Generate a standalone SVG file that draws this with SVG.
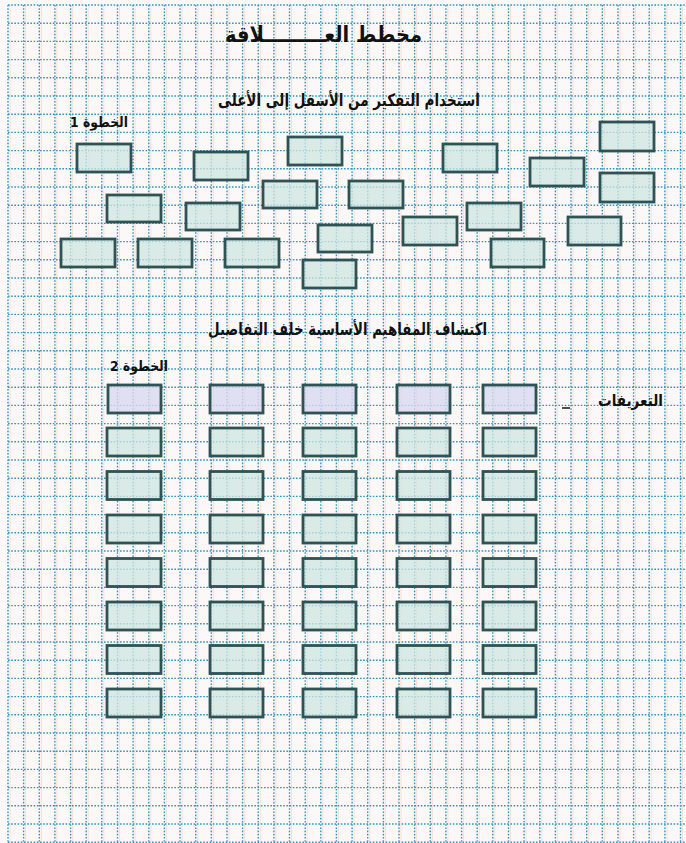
<svg xmlns="http://www.w3.org/2000/svg" width="686" height="843" viewBox="0 0 686 843">
<defs>
<style>
.bg{fill:#fcf8f7}
.grid{fill:none;stroke:#3596c0;stroke-width:1.4;stroke-dasharray:1.6 1.6}
.ghost{fill:none;stroke:#f2c4b4;stroke-width:1;opacity:0.45}
.box{fill:#cfe7e1;fill-opacity:0.75;stroke:#2f5254;stroke-width:2.8}
.def{fill:#d9d9f0;fill-opacity:0.8;stroke:#2f5254;stroke-width:2.8}
.t{font-family:"DejaVu Sans",sans-serif;font-weight:bold;fill:#111;text-anchor:middle}
.conn{stroke:#222;stroke-width:1.6;fill:none}
</style>
</defs>
<rect class="bg" x="0" y="0" width="686" height="843"/>
<g id="grid">
<path class="ghost" d="M10 5V843M25.6 5V843M41.3 5V843M56.9 5V843M72.6 5V843M88.2 5V843M103.8 5V843M119.5 5V843M135.1 5V843M150.8 5V843M166.4 5V843M182 5V843M197.7 5V843M213.3 5V843M229 5V843M244.6 5V843M260.2 5V843M275.9 5V843M291.5 5V843M307.2 5V843M322.8 5V843M338.4 5V843M354.1 5V843M369.7 5V843M385.4 5V843M401 5V843M416.6 5V843M432.3 5V843M447.9 5V843M463.6 5V843M479.2 5V843M494.8 5V843M510.5 5V843M526.1 5V843M541.8 5V843M557.4 5V843M573 5V843M588.7 5V843M604.3 5V843M620 5V843M635.6 5V843M651.2 5V843M666.9 5V843M682.5 5V843"/>
<path class="grid" d="M8 5V843M23.6 5V843M39.3 5V843M54.9 5V843M70.6 5V843M86.2 5V843M101.8 5V843M117.5 5V843M133.1 5V843M148.8 5V843M164.4 5V843M180 5V843M195.7 5V843M211.3 5V843M227 5V843M242.6 5V843M258.2 5V843M273.9 5V843M289.5 5V843M305.2 5V843M320.8 5V843M336.4 5V843M352.1 5V843M367.7 5V843M383.4 5V843M399 5V843M414.6 5V843M430.3 5V843M445.9 5V843M461.6 5V843M477.2 5V843M492.8 5V843M508.5 5V843M524.1 5V843M539.8 5V843M555.4 5V843M571 5V843M586.7 5V843M602.3 5V843M618 5V843M633.6 5V843M649.2 5V843M664.9 5V843M680.5 5V843"/>
<path class="grid" d="M8 5H686M8 23.2H686M8 41.4H686M8 59.6H686M8 77.8H686M8 96H686M8 114.2H686M8 132.4H686M8 150.6H686M8 168.8H686M8 187H686M8 205.2H686M8 223.4H686M8 241.6H686M8 259.8H686M8 278H686M8 296.2H686M8 314.4H686M8 332.6H686M8 350.8H686M8 369H686M8 387.2H686M8 405.4H686M8 423.6H686M8 441.8H686M8 460H686M8 478.2H686M8 496.4H686M8 514.6H686M8 532.8H686M8 551H686M8 569.2H686M8 587.4H686M8 605.6H686M8 623.8H686M8 642H686M8 660.2H686M8 678.4H686M8 696.6H686M8 714.8H686M8 733H686M8 751.2H686M8 769.4H686M8 787.6H686M8 805.8H686M8 824H686M8 842.2H686"/>
</g>
<g id="labels">
<g id="title"><text class="t" x="323.5" y="42" font-size="22" textLength="197" lengthAdjust="spacingAndGlyphs">مخطط العـــــــــلاقة</text></g>
<g id="subtitle1"><text class="t" x="349" y="106" font-size="17" textLength="262" lengthAdjust="spacingAndGlyphs">استخدام التفكير من الأسفل إلى الأعلى</text></g>
<g id="step1"><text class="t" x="99" y="127" font-size="14" direction="rtl" textLength="58" lengthAdjust="spacingAndGlyphs">الخطوة 1</text></g>
<g id="subtitle2"><text class="t" x="347.5" y="335" font-size="17" textLength="279" lengthAdjust="spacingAndGlyphs">اكتشاف المفاهيم الأساسية خلف التفاصيل</text></g>
<g id="step2"><text class="t" x="139" y="371" font-size="14" direction="rtl" textLength="58" lengthAdjust="spacingAndGlyphs">الخطوة 2</text></g>
<g id="definitions"><text class="t" x="630.5" y="406" font-size="16" textLength="65" lengthAdjust="spacingAndGlyphs">التعريفات</text></g>
</g>
<g id="connectors">
<path class="conn" d="M562 408H570"/>
</g>
<g id="step1-boxes">
<g id="s1-1"><rect class="box" x="77" y="144" width="54" height="28"/></g>
<g id="s1-2"><rect class="box" x="194" y="152" width="54" height="28"/></g>
<g id="s1-3"><rect class="box" x="288" y="137" width="54" height="28"/></g>
<g id="s1-4"><rect class="box" x="443" y="144" width="54" height="28"/></g>
<g id="s1-5"><rect class="box" x="530" y="158" width="54" height="28"/></g>
<g id="s1-6"><rect class="box" x="600" y="122" width="54" height="29"/></g>
<g id="s1-7"><rect class="box" x="600" y="173" width="54" height="29"/></g>
<g id="s1-8"><rect class="box" x="107" y="195" width="54" height="27"/></g>
<g id="s1-9"><rect class="box" x="186" y="203" width="54" height="27"/></g>
<g id="s1-10"><rect class="box" x="263" y="181" width="54" height="27"/></g>
<g id="s1-11"><rect class="box" x="349" y="181" width="54" height="27"/></g>
<g id="s1-12"><rect class="box" x="318" y="225" width="54" height="27"/></g>
<g id="s1-13"><rect class="box" x="403" y="217" width="54" height="28"/></g>
<g id="s1-14"><rect class="box" x="467" y="203" width="54" height="27"/></g>
<g id="s1-15"><rect class="box" x="568" y="217" width="53" height="28"/></g>
<g id="s1-16"><rect class="box" x="61" y="239" width="54" height="28"/></g>
<g id="s1-17"><rect class="box" x="138" y="239" width="54" height="28"/></g>
<g id="s1-18"><rect class="box" x="225" y="239" width="54" height="28"/></g>
<g id="s1-19"><rect class="box" x="303" y="260" width="53" height="28"/></g>
<g id="s1-20"><rect class="box" x="491" y="239" width="53" height="28"/></g>
</g>
<g id="step2-boxes">
<g id="r1c1"><rect class="def" x="108" y="385" width="53" height="28"/></g>
<g id="r1c2"><rect class="def" x="210" y="385" width="53" height="28"/></g>
<g id="r1c3"><rect class="def" x="303" y="385" width="53" height="28"/></g>
<g id="r1c4"><rect class="def" x="397" y="385" width="53" height="28"/></g>
<g id="r1c5"><rect class="def" x="483" y="385" width="53" height="28"/></g>
<g id="r2c1"><rect class="box" x="107" y="428" width="54" height="28"/></g>
<g id="r2c2"><rect class="box" x="210" y="428" width="53" height="28"/></g>
<g id="r2c3"><rect class="box" x="303" y="428" width="53" height="28"/></g>
<g id="r2c4"><rect class="box" x="397" y="428" width="53" height="28"/></g>
<g id="r2c5"><rect class="box" x="483" y="428" width="53" height="28"/></g>
<g id="r3c1"><rect class="box" x="107" y="471.5" width="54" height="28"/></g>
<g id="r3c2"><rect class="box" x="210" y="471.5" width="53" height="28"/></g>
<g id="r3c3"><rect class="box" x="303" y="471.5" width="53" height="28"/></g>
<g id="r3c4"><rect class="box" x="397" y="471.5" width="53" height="28"/></g>
<g id="r3c5"><rect class="box" x="483" y="471.5" width="53" height="28"/></g>
<g id="r4c1"><rect class="box" x="107" y="515" width="54" height="28"/></g>
<g id="r4c2"><rect class="box" x="210" y="515" width="53" height="28"/></g>
<g id="r4c3"><rect class="box" x="303" y="515" width="53" height="28"/></g>
<g id="r4c4"><rect class="box" x="397" y="515" width="53" height="28"/></g>
<g id="r4c5"><rect class="box" x="483" y="515" width="53" height="28"/></g>
<g id="r5c1"><rect class="box" x="107" y="558.5" width="54" height="28"/></g>
<g id="r5c2"><rect class="box" x="210" y="558.5" width="53" height="28"/></g>
<g id="r5c3"><rect class="box" x="303" y="558.5" width="53" height="28"/></g>
<g id="r5c4"><rect class="box" x="397" y="558.5" width="53" height="28"/></g>
<g id="r5c5"><rect class="box" x="483" y="558.5" width="53" height="28"/></g>
<g id="r6c1"><rect class="box" x="107" y="602" width="54" height="28"/></g>
<g id="r6c2"><rect class="box" x="210" y="602" width="53" height="28"/></g>
<g id="r6c3"><rect class="box" x="303" y="602" width="53" height="28"/></g>
<g id="r6c4"><rect class="box" x="397" y="602" width="53" height="28"/></g>
<g id="r6c5"><rect class="box" x="483" y="602" width="53" height="28"/></g>
<g id="r7c1"><rect class="box" x="107" y="645.5" width="54" height="28"/></g>
<g id="r7c2"><rect class="box" x="210" y="645.5" width="53" height="28"/></g>
<g id="r7c3"><rect class="box" x="303" y="645.5" width="53" height="28"/></g>
<g id="r7c4"><rect class="box" x="397" y="645.5" width="53" height="28"/></g>
<g id="r7c5"><rect class="box" x="483" y="645.5" width="53" height="28"/></g>
<g id="r8c1"><rect class="box" x="107" y="689" width="54" height="28"/></g>
<g id="r8c2"><rect class="box" x="210" y="689" width="53" height="28"/></g>
<g id="r8c3"><rect class="box" x="303" y="689" width="53" height="28"/></g>
<g id="r8c4"><rect class="box" x="397" y="689" width="53" height="28"/></g>
<g id="r8c5"><rect class="box" x="483" y="689" width="53" height="28"/></g>
</g>
</svg>
